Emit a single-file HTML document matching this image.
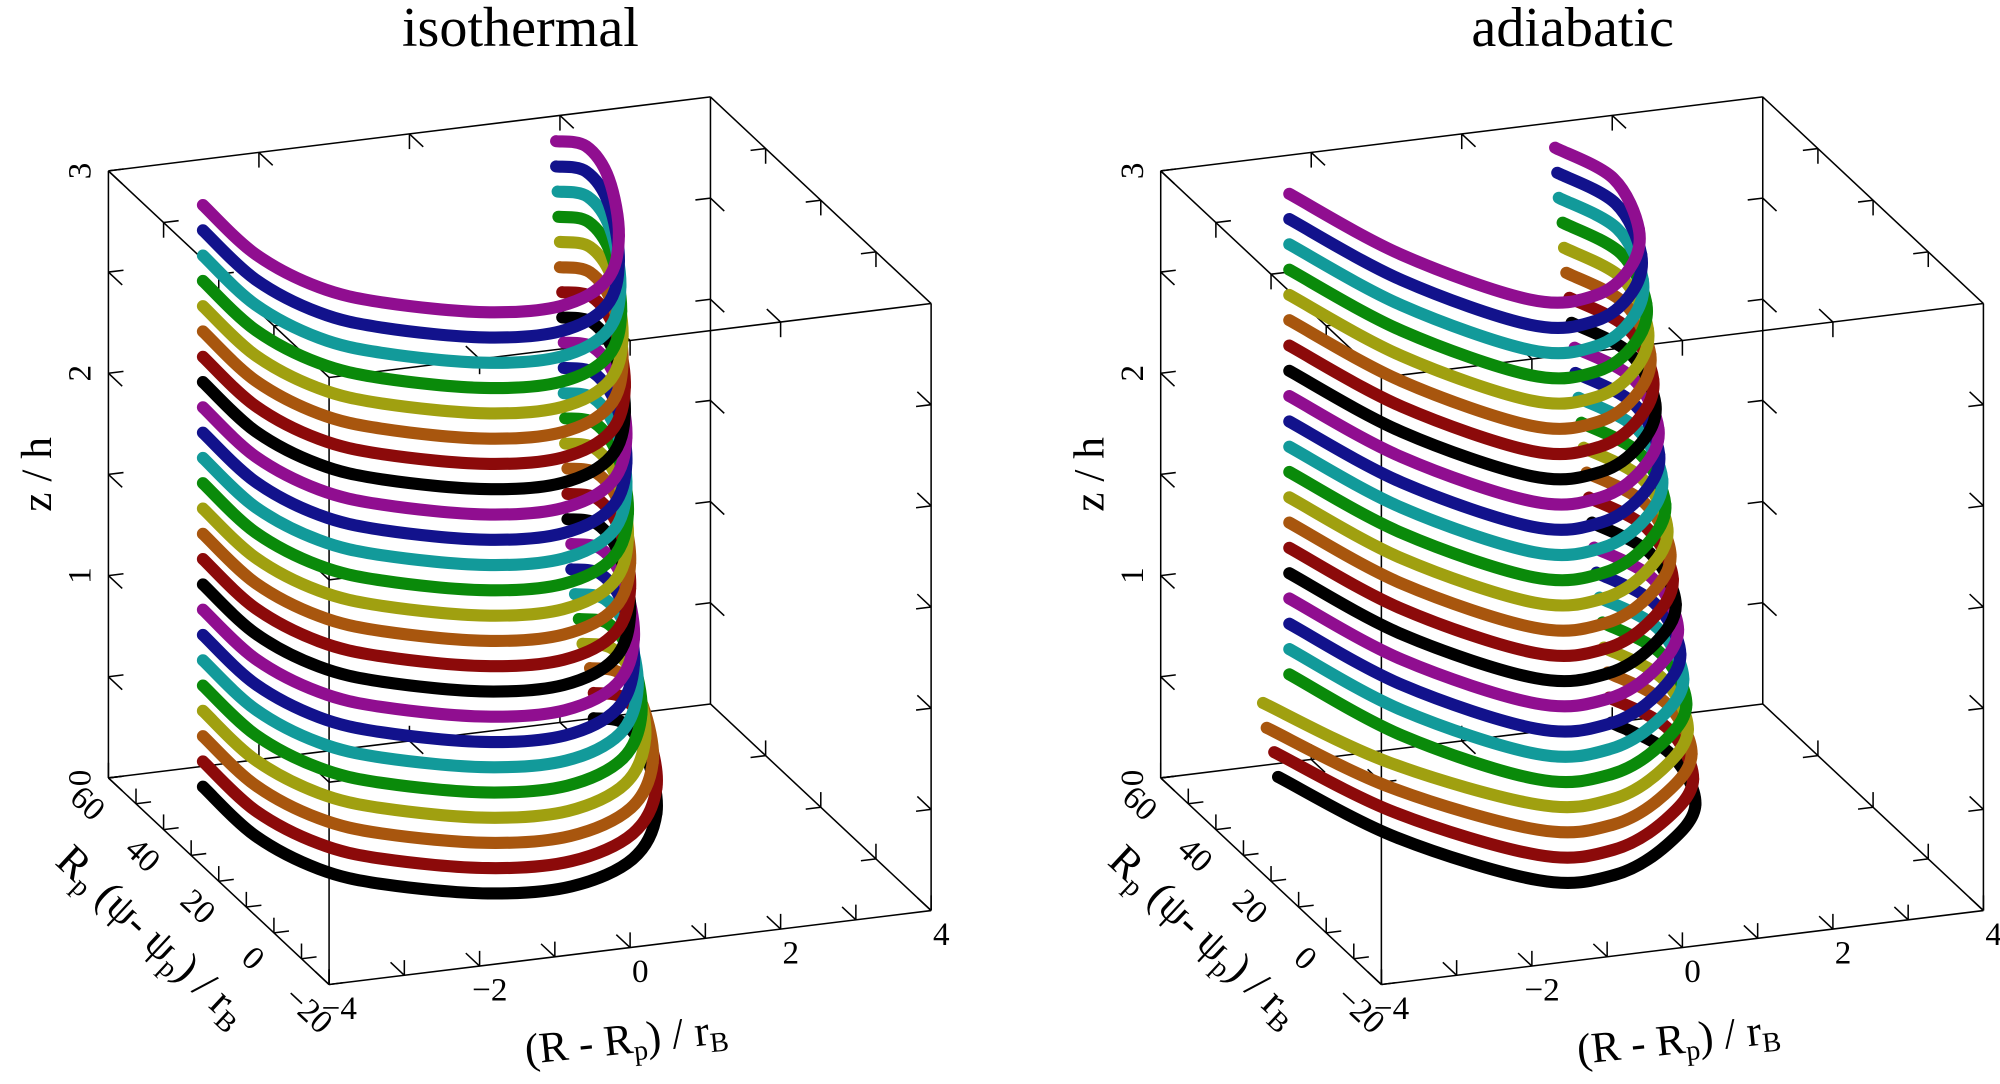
<!DOCTYPE html>
<html><head><meta charset="utf-8"><style>
html,body{margin:0;padding:0;background:#fff;}
svg{display:block;}
text{font-family:"Liberation Serif",serif;fill:#000;}
</style></head><body>
<svg id="fig" width="2000" height="1084" viewBox="0 0 1568 850" preserveAspectRatio="none" xmlns="http://www.w3.org/2000/svg">
<g id="boxes"></g>
<g id="curves"></g>
<g id="labels"></g>
</svg>
<script>
// ---- data ----
const zLevels = [0,0.125,0.25,0.375,0.5,0.625,0.75,0.875,1,1.125,1.25,1.375,1.5,1.625,1.75,1.875,2,2.125,2.25,2.375,2.5,2.625,2.75,2.875];
const isoBaseX = [-3.0,-3.0,-2.67,-2.1,-1.04,-0.07,0.8,1.5,2.1,2.24,1.95];
const isoBaseY = [53,34,20,12,4.5,3.4,10.3,25,45,57,60];
const isoShift = [0.5,0.5,0.45,0.35,0.3,0.25,0.2,0.2,0.15,0.15,0.15,0.12,0.12,0.1,0.1,0.1,0.08,0.08,0.05,0.05,0.03,0.02,0,0];
const adiBaseX = [-2.46,-1.9,-0.96,-0.15,0.62,1.2,1.54,1.24];
const adiBaseY = [55.4,29.7,9.1,7.7,15.8,28.5,47,60];
const adiShift = [0.75,0.72,0.70,0.65,0.63,0.59,0.55,0.52,0.49,0.45,0.42,0.38,0.35,0.31,0.27,0.26,0.22,0.19,0.15,0.12,0.10,0.05,0.03,0];
const adiLeftShift = [-0.15,-0.2,-0.3,-0.35,0,0,0,0,0,0,0,0,0,0,0,0,0,0,0,0,0,0,0,0];
const xTickLabels = ["−4","−2","0","2","4"];
const yTickLabels = ["−20","0","20","40","60"];
const zTickLabels = ["0","1","2","3"];

const colors = ["#000000","#8c0a0a","#a8560e","#a0a010","#0a8a0a","#129a9a","#12128c","#900e90"];
const NS = "http://www.w3.org/2000/svg";
function P(off,x,y,z){return [off+258+(x+4)/8*472-(y+20)/80*173, 772-(x+4)/8*58-(y+20)/80*162-z/3*476];}
function mk(tag,attrs,parent){const e=document.createElementNS(NS,tag);for(const k in attrs)e.setAttribute(k,attrs[k]);parent.appendChild(e);return e;}
const boxes=document.getElementById('boxes'), curves=document.getElementById('curves'), labels=document.getElementById('labels');

function line(a,b,g,name){const l=mk('line',{x1:a[0],y1:a[1],x2:b[0],y2:b[1],stroke:'#000','stroke-width':1.2},g);

}

function drawBox(off,pname){
  const g=mk('g',{},boxes);
  
  
  const X=[-4,4],Y=[-20,60],Z=[0,3];
  for(const y of Y)for(const z of Z)line(P(off,-4,y,z),P(off,4,y,z),g,'box-edge');
  for(const x of X)for(const z of Z)line(P(off,x,-20,z),P(off,x,60,z),g,'box-edge');
  for(const x of X)for(const y of Y)line(P(off,x,y,0),P(off,x,y,3),g,'box-edge');
  function ticks(fn,vals,dirs){for(const v of vals){const p=fn(v);const a=P(off,...p);for(const d of dirs){line(a,P(off,p[0]+d[0],p[1]+d[1],p[2]+d[2]),g,'tick');}}}
  ticks(v=>[v,-20,0],[-4,-3,-2,-1,0,1,2,3,4],[[0,0,0.075],[0,5,0]]);
  ticks(v=>[-4,v,0],[-20,-10,0,10,20,30,40,50,60],[[0.2,0,0],[0,0,0.075]]);
  ticks(v=>[-4,60,v],[0,0.5,1,1.5,2,2.5,3],[[0.2,0,0],[0,-5,0]]);
  ticks(v=>[v,60,3],[-2,0,2],[[0,0,-0.075],[0,-5,0]]);
  ticks(v=>[v,60,0],[-2,0,2],[[0,0,0.075],[0,-5,0]]);
  ticks(v=>[v,-20,3],[-2,0,2],[[0,0,-0.075],[0,5,0]]);
  ticks(v=>[-4,v,3],[0,20,40],[[0.2,0,0],[0,0,-0.075]]);
  ticks(v=>[4,v,3],[0,20,40],[[-0.2,0,0],[0,0,-0.075]]);
  ticks(v=>[4,v,0],[0,20,40],[[-0.2,0,0],[0,0,0.075]]);
  ticks(v=>[4,60,v],[0.5,1,1.5,2,2.5],[[-0.2,0,0],[0,-5,0]]);
  ticks(v=>[4,-20,v],[0.5,1,1.5,2,2.5],[[-0.2,0,0],[0,5,0]]);
  ticks(v=>[-4,-20,v],[1,2],[[0.2,0,0],[0,5,0]]);
}

function pathSeg(pts,from,to){
  let d='M'+pts[from][0].toFixed(1)+','+pts[from][1].toFixed(1);
  for(let i=from;i<to;i++){
    const p0=pts[Math.max(i-1,0)],p1=pts[i],p2=pts[i+1],p3=pts[Math.min(i+2,pts.length-1)];
    const c1=[p1[0]+(p2[0]-p0[0])/6,p1[1]+(p2[1]-p0[1])/6];
    const c2=[p2[0]-(p3[0]-p1[0])/6,p2[1]-(p3[1]-p1[1])/6];
    d+=' C'+c1[0].toFixed(1)+','+c1[1].toFixed(1)+' '+c2[0].toFixed(1)+','+c2[1].toFixed(1)+' '+p2[0].toFixed(1)+','+p2[1].toFixed(1);
  }
  return d;
}

function drawCurves(off,pname,bx,by,shift,lshift,weights,lweights,split){
  const g=mk('g',{},curves);
  
  
  const all=zLevels.map((z,k)=>bx.map((x,i)=>P(off,x+shift[k]*weights[i]+(lshift?lshift[k]*lweights[i]:0),by[i],z)));
  all.forEach((pts,k)=>{const p=mk('path',{d:pathSeg(pts,split,pts.length-1),fill:'none',stroke:colors[k%8],'stroke-width':9.5,'stroke-linecap':'round'},g);
    
    });
  all.forEach((pts,k)=>{const p=mk('path',{d:pathSeg(pts,0,split),fill:'none',stroke:colors[k%8],'stroke-width':9.5,'stroke-linecap':'round'},g);
    
    });
}

function txt(x,y,s,size,rot,anchor,name){
  const t=mk('text',{x:x,y:y,'font-size':size,'text-anchor':anchor||'middle',transform:rot?`rotate(${rot} ${x} ${y})`:''},labels);
  
  
  t.innerHTML=s;return t;
}

function drawLabels(off,title,pname){
  txt(off+408,36,title,44,0,'middle',pname+'-title');
  const zpos=[0,1,2,3];
  zpos.forEach((z,i)=>{const p=P(off,-4,60,z);txt(p[0]-14,p[1],zTickLabels[i],26,-90,'middle','z-tick-label');});
  txt(off+40,372,'z / h',34,-90,'middle','z-axis-title');
  const yv=[-20,0,20,40,60];
  yv.forEach((y,i)=>{const p=P(off,-4,y,0);txt(p[0]-22,p[1]+26,yTickLabels[i],26,43,'middle','y-tick-label');});
  txt(off+112,742,'R<tspan font-size="22" dy="6">p</tspan><tspan dy="-6"> (ψ- ψ</tspan><tspan font-size="22" dy="6">p</tspan><tspan dy="-6">) / r</tspan><tspan font-size="22" dy="6">B</tspan>',34,43,'middle','y-axis-title');
  const xv=[-4,-2,0,2,4];
  xv.forEach((x,i)=>{const p=P(off,x,-20,0);txt(p[0]+8,p[1]+27,xTickLabels[i],26,0,'middle','x-tick-label');});
  txt(off+492,826,'(R - R<tspan font-size="22" dy="6">p</tspan><tspan dy="-6">) / r</tspan><tspan font-size="22" dy="6">B</tspan>',34,-6,'middle','x-axis-title');
}

drawBox(0,'isothermal');
drawBox(825,'adiabatic');
drawCurves(0,'isothermal',isoBaseX,isoBaseY,isoShift,null,[0,0,0,0,0.1,0.3,0.7,1,1,1,1],null,7);
drawCurves(825,'adiabatic',adiBaseX,adiBaseY,adiShift,adiLeftShift,[0,0,0.15,0.35,0.65,1,1,1],[1,0.5,0,0,0,0,0,0],5);
drawLabels(0,'isothermal','isothermal');
drawLabels(825,'adiabatic','adiabatic');
</script>
</body></html>
